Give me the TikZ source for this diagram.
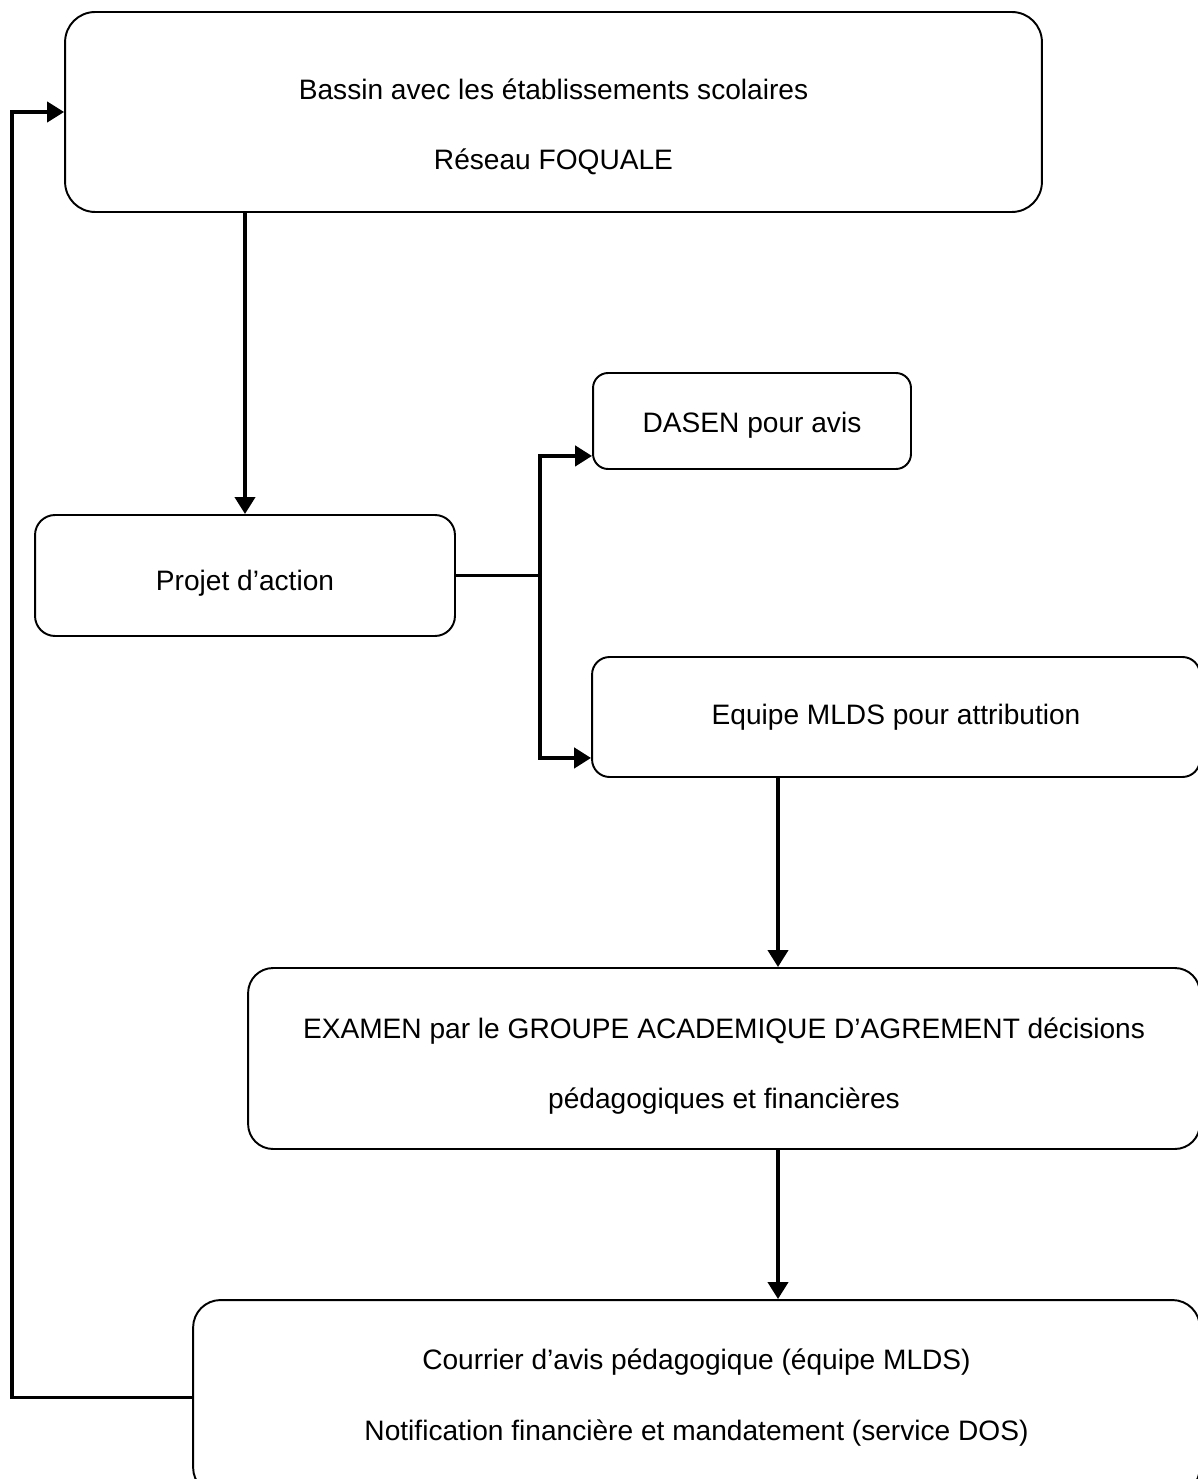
\documentclass[tikz,border=0pt]{standalone}
\usepackage{fontspec}
\setmainfont{Liberation Sans}
\usetikzlibrary{positioning,arrows.meta}

\begin{document}
\begin{tikzpicture}
            [x=0.02cm,y=-0.02cm,
             b/.style={draw,line width=1.1pt,inner sep=0pt,align=center,
                       font=\fontsize{16}{40}\selectfont},
             ar/.style={-{Triangle[length=0.34cm,width=0.4cm]},line width=2.2pt}]
            \useasboundingbox (0,0) rectangle (1197,1479);
            \node[b,minimum width=19.54cm,minimum height=4cm,rounded corners=0.6cm]
                (bassin) at (553.5,112)
                {\rule{0pt}{1cm}Bassin avec les établissements scolaires\\Réseau FOQUALE};
            \node[b,minimum width=8.4cm,minimum height=2.42cm,rounded corners=0.4cm]
                (projet) at (245,575.5) {\rule{0pt}{0.73cm}Projet d'action};
            \node[b,minimum width=6.36cm,minimum height=1.92cm,rounded corners=0.3cm]
                (dasen) at (752,421) {\rule{0pt}{0.57cm}DASEN pour avis};
            \node[b,minimum width=12.16cm,minimum height=2.4cm,rounded corners=0.35cm]
                (equipe) at (896,717) {Equipe MLDS pour attribution};
            \node[b,minimum width=19.04cm,minimum height=3.62cm,rounded corners=0.5cm]
                (examen) at (724,1058.5)
                {\rule{0pt}{0.71cm}EXAMEN par le GROUPE ACADEMIQUE D'AGREMENT décisions\\pédagogiques et financières};
            \node[b,minimum width=20.14cm,minimum height=3.9cm,rounded corners=0.55cm]
                (courrier) at (696.5,1397.5)
                {Courrier d'avis pédagogique (équipe MLDS)\\Notification financière et mandatement (service DOS)};
            \coordinate (split) at (540,575.5);
            \coordinate (drop) at (778,0);
            \coordinate (loop) at (12,0);
            \draw[ar] (projet.north |- bassin.south) -- (projet.north);
            \draw[line width=2.2pt] (projet.east) -- (split);
            \draw[ar,line width=2.6pt] (split) |- ([yshift=0.28cm]dasen.south west);
            \draw[ar,line width=2.6pt] (split) |- ([yshift=0.4cm]equipe.south west);
            \draw[ar] (drop |- equipe.south) -- (drop |- examen.north);
            \draw[ar] (drop |- examen.south) -- (drop |- courrier.north);
            \draw[ar] (courrier.west) -- (courrier.west -| loop) |- (bassin.west);
        \end{tikzpicture}
\end{document}
